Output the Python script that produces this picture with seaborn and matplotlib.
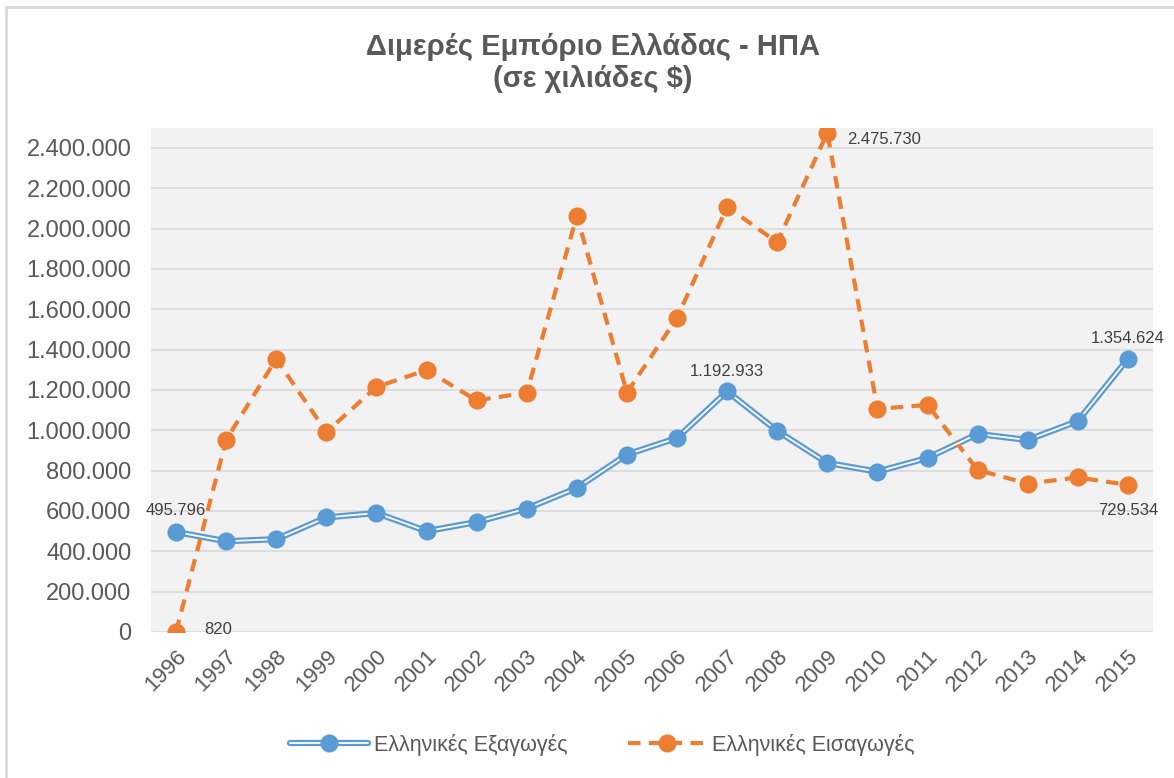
import matplotlib
matplotlib.use("Agg")
import matplotlib.pyplot as plt
import seaborn as sns
import pandas as pd
from matplotlib.patches import Rectangle
from matplotlib.lines import Line2D
from matplotlib.legend_handler import HandlerTuple

years = [str(y) for y in range(1996, 2016)]
exports = [495796, 450000, 460000, 568000, 590000, 500000, 545000, 612000, 714000, 880000,
           962000, 1192933, 997000, 838000, 795000, 863000, 982000, 952000, 1046000, 1354624]
imports = [820, 952000, 1354000, 992000, 1215000, 1299000, 1148000, 1187000, 2063000, 1187000,
           1557000, 2108000, 1932000, 2475730, 1106000, 1126000, 803000, 736000, 766000, 729534]
yticks = list(range(0, 2400001, 200000))

BLUE = "#5B9BD5"
ORANGE = "#ED7D31"
TXT = "#595959"


def fmt(v):
    return f"{v:,.0f}".replace(",", ".")


sns.set_style("white")
plt.rcParams["font.family"] = ["Liberation Sans", "DejaVu Sans"]

df = pd.DataFrame({"year": years, "exports": exports, "imports": imports})
df["x"] = range(len(df))

fig = plt.figure(figsize=(11.74, 7.78), dpi=100)
ax = fig.add_axes([0.1286, 0.1877, 0.8535, 0.648])
ax.set_facecolor("#F2F2F2")

# double line for exports: thick blue + thin white core
sns.lineplot(data=df, x="x", y="exports", ax=ax, color=BLUE, linewidth=4.5, zorder=3)
sns.lineplot(data=df, x="x", y="exports", ax=ax, color="white", linewidth=1.3, zorder=4)
ax.scatter(df["x"], df["exports"], s=170, color=BLUE, zorder=5, linewidths=0)

sns.lineplot(data=df, x="x", y="imports", ax=ax, color=ORANGE, linewidth=3,
             linestyle=(0, (3, 2)), zorder=3)
ax.scatter(df["x"], df["imports"], s=170, color=ORANGE, zorder=5, linewidths=0)

ax.set_xlim(-0.5, len(years) - 0.5)
ax.set_ylim(0, 2500000)
ax.set_yticks(yticks)
ax.set_yticklabels([fmt(v) for v in yticks], fontsize=17, color=TXT)
ax.set_xticks(df["x"])
ax.set_xticklabels(years, fontsize=16, color=TXT, rotation=45, ha="right",
                   va="top", rotation_mode="anchor")
ax.tick_params(axis="y", length=0, pad=14)
ax.tick_params(axis="x", length=0, pad=10)
ax.yaxis.grid(True, color="#D9D9D9", linewidth=1.2)
ax.set_axisbelow(True)
for s in ax.spines.values():
    s.set_visible(False)
ax.set_xlabel("")
ax.set_ylabel("")

lab = dict(fontsize=12, color="#404040")
ax.annotate(fmt(exports[0]), (0, exports[0]), xytext=(0, 10), textcoords="offset points",
            ha="center", va="bottom", **lab)
ax.annotate(fmt(imports[0]), (0, imports[0]), xytext=(20, 2), textcoords="offset points",
            ha="left", va="center", **lab)
ax.annotate(fmt(exports[11]), (11, exports[11]), xytext=(0, 9), textcoords="offset points",
            ha="center", va="bottom", **lab)
ax.annotate(fmt(imports[13]), (13, imports[13]), xytext=(14, -5), textcoords="offset points",
            ha="left", va="center", **lab)
ax.annotate(fmt(exports[19]), (19, exports[19]), xytext=(0, 9), textcoords="offset points",
            ha="center", va="bottom", **lab)
ax.annotate(fmt(imports[19]), (19, imports[19]), xytext=(0, -13), textcoords="offset points",
            ha="center", va="top", **lab)

fig.text(0.505, 0.919, "Διμερές Εμπόριο Ελλάδας - ΗΠΑ\n(σε χιλιάδες $)", ha="center",
         va="center", fontsize=21, fontweight="bold", color=TXT, linespacing=1.2)

h1a = Line2D([], [], color=BLUE, linewidth=4.5)
h1b = Line2D([], [], color="white", linewidth=1.3, marker="o", markersize=13,
             markerfacecolor=BLUE, markeredgewidth=0)
h2 = Line2D([], [], color=ORANGE, linewidth=3, linestyle=(0, (3, 2)), marker="o",
            markersize=13, markerfacecolor=ORANGE, markeredgewidth=0)
fig.legend([(h1a, h1b), h2], ["Ελληνικές Εξαγωγές", "Ελληνικές Εισαγωγές"], loc="center",
           bbox_to_anchor=(0.513, 0.043), ncol=2, frameon=False, handlelength=3.6,
           handletextpad=0.3, columnspacing=2.8, prop={"size": 15.5}, labelcolor=TXT,
           handler_map={tuple: HandlerTuple(ndivide=1, pad=0)})

fig.patches.append(Rectangle((6 / 1174, -0.1), 1.2, 1 - 7 / 778 + 0.1, transform=fig.transFigure,
                             fill=False, edgecolor="#D9D9D9", linewidth=2, zorder=-1))

fig.savefig("out.png", dpi=100)
